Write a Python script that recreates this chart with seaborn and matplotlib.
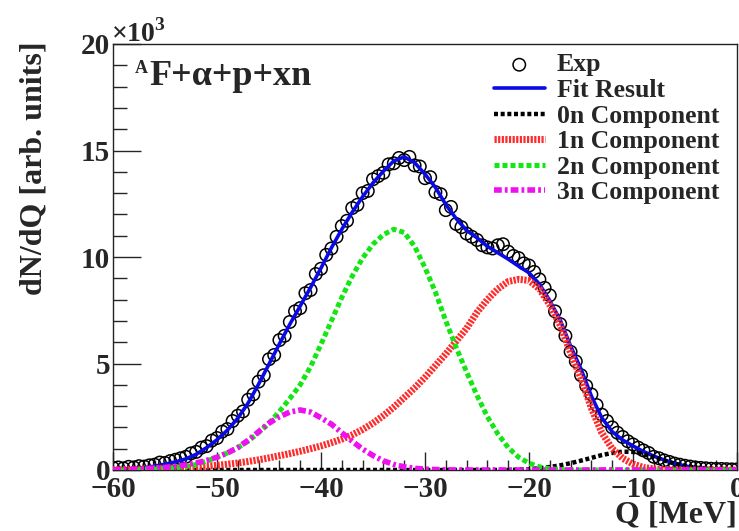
import numpy as np
import pandas as pd
import matplotlib
matplotlib.use("Agg")
import matplotlib.pyplot as plt
import seaborn as sns

# Q grid for the fitted components [MeV]
q_fit = list(range(-60, 1))

# Component yields (x10^3) on the 1 MeV grid
comp_0n = [0.0] * 39 + [0.02, 0.04, 0.08, 0.14, 0.22, 0.32, 0.44, 0.57, 0.70, 0.80,
                        0.86, 0.85, 0.75, 0.60, 0.45, 0.30, 0.19, 0.11, 0.06, 0.03,
                        0.01, 0.01]
comp_1n = [0.01, 0.02, 0.03, 0.04, 0.06, 0.08, 0.10, 0.12, 0.15, 0.18,
           0.22, 0.27, 0.33, 0.40, 0.48, 0.57, 0.67, 0.77, 0.88, 1.00,
           1.13, 1.28, 1.45, 1.65, 1.90, 2.20, 2.55, 2.95, 3.40, 3.85,
           4.35, 4.90, 5.45, 6.05, 6.65, 7.40, 8.00, 8.50, 8.85, 8.95,
           8.90, 8.50, 7.75, 6.80, 5.50, 4.30, 2.90, 1.75, 1.00, 0.55,
           0.28, 0.12, 0.05, 0.02, 0.01, 0.0, 0.0, 0.0, 0.0, 0.0, 0.0]
comp_2n = [0.0, 0.0, 0.01, 0.02, 0.04, 0.07, 0.11, 0.16, 0.26, 0.42,
           0.60, 0.80, 1.05, 1.35, 1.75, 2.20, 2.75, 3.35, 4.00, 4.85,
           5.90, 7.00, 8.10, 9.10, 9.95, 10.60, 11.05, 11.30, 11.15, 10.50,
           9.50, 8.35, 7.00, 5.75, 4.60, 3.50, 2.50, 1.70, 1.05, 0.60,
           0.32, 0.15, 0.06, 0.02, 0.0, 0.0, 0.0, 0.0, 0.0, 0.0,
           0.0, 0.0, 0.0, 0.0, 0.0, 0.0, 0.0, 0.0, 0.0, 0.0, 0.0]
comp_3n = [0.01, 0.02, 0.03, 0.05, 0.08, 0.12, 0.17, 0.24, 0.33, 0.45,
           0.60, 0.80, 1.05, 1.40, 1.80, 2.20, 2.50, 2.72, 2.82, 2.72,
           2.45, 2.15, 1.75, 1.35, 0.98, 0.68, 0.43, 0.26, 0.15, 0.08,
           0.04, 0.02, 0.01] + [0.0] * 28

# Measured spectrum (x10^3), 0.5 MeV bins
q_exp = [-60 + 0.5 * i for i in range(121)]
y_exp = [0.10, 0.12, 0.08, 0.15, 0.12, 0.18, 0.16, 0.22, 0.25, 0.35,
         0.33, 0.42, 0.48, 0.55, 0.62, 0.78, 0.85, 1.05, 1.12, 1.38,
         1.50, 1.80, 1.92, 2.30, 2.55, 2.75, 3.30, 3.55, 4.15, 4.45,
         5.20, 5.40, 6.10, 6.30, 6.95, 7.45, 7.60, 8.30, 8.45, 9.20,
         9.45, 10.10, 10.40, 10.95, 11.45, 11.70, 12.30, 12.45, 13.00, 13.10,
         13.65, 13.80, 13.95, 14.35, 14.40, 14.65, 14.55, 14.70, 14.30, 14.25,
         13.70, 13.75, 13.05, 12.95, 12.20, 12.35, 11.55, 11.40, 11.10, 10.95,
         10.80, 10.55, 10.45, 10.40, 10.55, 10.60, 10.25, 10.05, 9.95, 9.70,
         9.60, 9.30, 8.95, 8.55, 8.20, 7.45, 6.85, 6.30, 5.55, 5.10,
         4.45, 3.95, 3.55, 3.05, 2.60, 2.30, 2.00, 1.75, 1.55, 1.35,
         1.20, 1.05, 0.92, 0.80, 0.62, 0.55, 0.45, 0.38, 0.30, 0.25,
         0.20, 0.16, 0.12, 0.10, 0.08, 0.06, 0.05, 0.05, 0.04, 0.03,
         0.03]

x_ticks = [-60, -50, -40, -30, -20, -10, 0]
y_ticks = [0, 5, 10, 15, 20]

fit_total = [a + b + c + d for a, b, c, d in zip(comp_0n, comp_1n, comp_2n, comp_3n)]
df_fit = pd.DataFrame({"Q": q_fit, "fit": fit_total, "c0": comp_0n,
                       "c1": comp_1n, "c2": comp_2n, "c3": comp_3n})
df_exp = pd.DataFrame({"Q": q_exp, "N": y_exp})

sns.set_style("ticks")
plt.rcParams["font.family"] = ["Liberation Serif", "DejaVu Serif"]
plt.rcParams["font.weight"] = "bold"
plt.rcParams["axes.labelweight"] = "bold"
plt.rcParams["axes.linewidth"] = 1.0
plt.rcParams["mathtext.fontset"] = "custom"
plt.rcParams["mathtext.rm"] = "Liberation Serif:bold"
plt.rcParams["mathtext.bf"] = "Liberation Serif:bold"

W, H = 739, 531
fig = plt.figure(figsize=(W / 100, H / 100), dpi=100)
ax = fig.add_axes([113 / W, (H - 470) / H, (737 - 113) / W, (470 - 44) / H])

sns.scatterplot(data=df_exp, x="Q", y="N", ax=ax, marker="o", s=80,
                facecolor="none", edgecolor="black", linewidth=1.1,
                label="Exp", zorder=2)
sns.lineplot(data=df_fit, x="Q", y="fit", ax=ax, color="#0a0ae6", lw=2.6,
             label="Fit Result", zorder=3)
sns.lineplot(data=df_fit, x="Q", y="c0", ax=ax, color="black", lw=3.2,
             label="0n Component", zorder=4)
sns.lineplot(data=df_fit, x="Q", y="c1", ax=ax, color="#ff2a2a", lw=5.0,
             label="1n Component", zorder=4)
sns.lineplot(data=df_fit, x="Q", y="c2", ax=ax, color="#14e614", lw=3.6,
             label="2n Component", zorder=4)
sns.lineplot(data=df_fit, x="Q", y="c3", ax=ax, color="#ee10ee", lw=4.0,
             label="3n Component", zorder=4)

styles = {"0n Component": (0, (0.9, 0.6)),
          "1n Component": (0, (0.32, 0.2)),
          "2n Component": (0, (1.0, 0.6)),
          "3n Component": (0, (1.4, 0.55, 0.5, 0.55))}
for ln in ax.get_lines():
    if ln.get_label() in styles:
        ln.set_linestyle(styles[ln.get_label()])

ax.set_xlim(-60, 0)
ax.set_ylim(0, 20)
ax.set_xticks(x_ticks)
ax.set_yticks(y_ticks)
ax.set_xticks(np.arange(-60, 1, 2), minor=True)
ax.set_yticks(np.arange(0, 20.1, 1), minor=True)
ax.tick_params(axis="both", which="major", direction="in", length=13, width=1.0,
               labelsize=21, top=False, right=False)
ax.tick_params(axis="y", which="major", length=20)
ax.tick_params(axis="both", which="minor", direction="in", length=7, width=1.0,
               top=False, right=False)
ax.tick_params(axis="y", which="minor", length=10)
ax.tick_params(axis="x", pad=4)
ax.tick_params(axis="y", pad=2)
for lab in ax.get_xticklabels() + ax.get_yticklabels():
    lab.set_fontweight("bold")
for sp in ax.spines.values():
    sp.set_visible(True)
    sp.set_color("#222222")

ax.set_xlabel("Q [MeV]", fontsize=23, fontweight="bold", loc="right")
ax.xaxis.set_label_coords(1.0, -0.072)
ax.xaxis.label.set_verticalalignment("top")
ax.set_ylabel("dN/dQ [arb. units]", fontsize=23, fontweight="bold", loc="top")
ax.yaxis.set_label_coords(-0.104, 1.005)

def px(x, y):
    return x / W, 1 - y / H

fig.text(*px(111, 42), "×10$^{3}$", fontsize=20, fontweight="bold",
         va="baseline", ha="left")
fig.text(*px(135, 73), "A", fontsize=13, fontweight="bold", va="baseline")
fig.text(*px(149, 85), "F+α+p+xn", fontsize=26, fontweight="bold", va="baseline")

leg = ax.legend(loc="upper right", bbox_to_anchor=(1.0, 1.02), frameon=False,
                fontsize=18.5, handlelength=2.0, handletextpad=0.45,
                labelspacing=0.1, borderaxespad=0.3, handleheight=0.7)
for t in leg.get_texts():
    t.set_fontweight("bold")

fig.savefig("out.png", dpi=100)
